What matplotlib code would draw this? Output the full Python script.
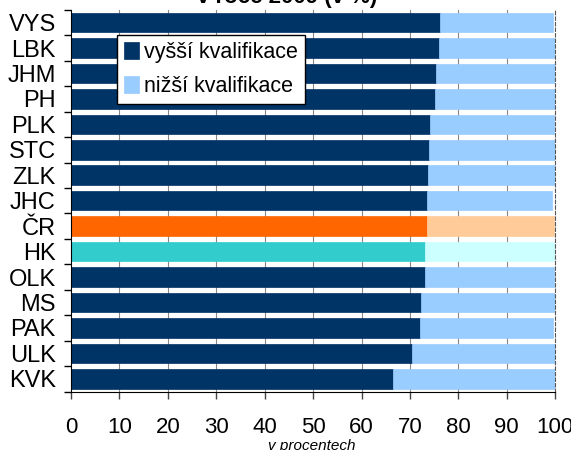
import matplotlib
matplotlib.use("Agg")
import matplotlib.pyplot as plt
import numpy as np

plt.rcParams['font.family'] = ['Liberation Sans', 'DejaVu Sans']

categories = ["VYS", "LBK", "JHM", "PH", "PLK", "STC", "ZLK", "JHC", "ČR", "HK", "OLK", "MS", "PAK", "ULK", "KVK"]
vyssi = [76.3, 76.0, 75.3, 75.1, 74.2, 73.9, 73.8, 73.6, 73.5, 73.2, 73.1, 72.2, 72.0, 70.5, 66.5]
nizsi = [23.3, 24.0, 24.7, 24.9, 25.6, 26.1, 26.2, 25.7, 26.3, 26.8, 26.6, 27.8, 27.6, 29.5, 33.5]
series_names = ["vyšší kvalifikace", "nižší kvalifikace"]
title = "v roce 2009 (v %)"
xlabel = "v procentech"

dark = "#003366"
light = "#99CCFF"
special_dark = {"ČR": "#FF6600", "HK": "#33CCCC"}
special_light = {"ČR": "#FFCC99", "HK": "#CCFFFF"}

fig = plt.figure(figsize=(5.71, 4.5), dpi=100)
ax = fig.add_axes([0.1243, 0.130, 0.848, 0.848])

n = len(categories)
y = np.arange(n)
cd = [special_dark.get(c, dark) for c in categories]
cl = [special_light.get(c, light) for c in categories]
h = 0.77
ax.barh(y, vyssi, height=h, color=cd, edgecolor=cd, linewidth=0.5, zorder=2, label=series_names[0])
ax.barh(y, nizsi, left=vyssi, height=h, color=cl, edgecolor=cl, linewidth=0.5, zorder=2, label=series_names[1])

ax.set_xlim(0, 100)
ax.set_ylim(n - 0.5, -0.5)
ax.set_xticks(np.arange(0, 101, 10))
ax.set_yticks(y)
ax.set_yticklabels(categories)
ax.set_yticks(np.arange(-0.5, n, 1), minor=True)
ax.tick_params(axis='y', which='major', length=0, labelsize=17, pad=11)
ax.tick_params(axis='y', which='minor', length=5, width=1, direction='out', color='black')
ax.tick_params(axis='x', length=5, width=1, direction='out', labelsize=16, pad=13.5, color='#444444')
for v in range(10, 100, 10):
    ax.axvline(v, color='#888888', linewidth=0.8, zorder=1)

ax.spines['top'].set_visible(False)
ax.spines['right'].set_linestyle((0, (3, 2)))
ax.spines['right'].set_color('#555555')
ax.spines['left'].set_color('black')
ax.spines['bottom'].set_color('black')

leg = ax.legend(loc='upper left', bbox_to_anchor=(0.095, 0.934), borderaxespad=0, fontsize=15.5,
                frameon=True, fancybox=False, edgecolor='black', framealpha=1,
                handlelength=0.7, handleheight=0.85, handletextpad=0.25,
                borderpad=0.32, labelspacing=0.6)
leg.get_frame().set_linewidth(1)

fig.text(0.503, 1 - 2.5 / 450, title, ha='center', va='baseline', fontsize=16, fontweight='bold')
fig.text(0.546, 1 - 446 / 450, xlabel, ha='center', va='center', fontsize=11, style='italic')

fig.savefig("out.png", dpi=100)
